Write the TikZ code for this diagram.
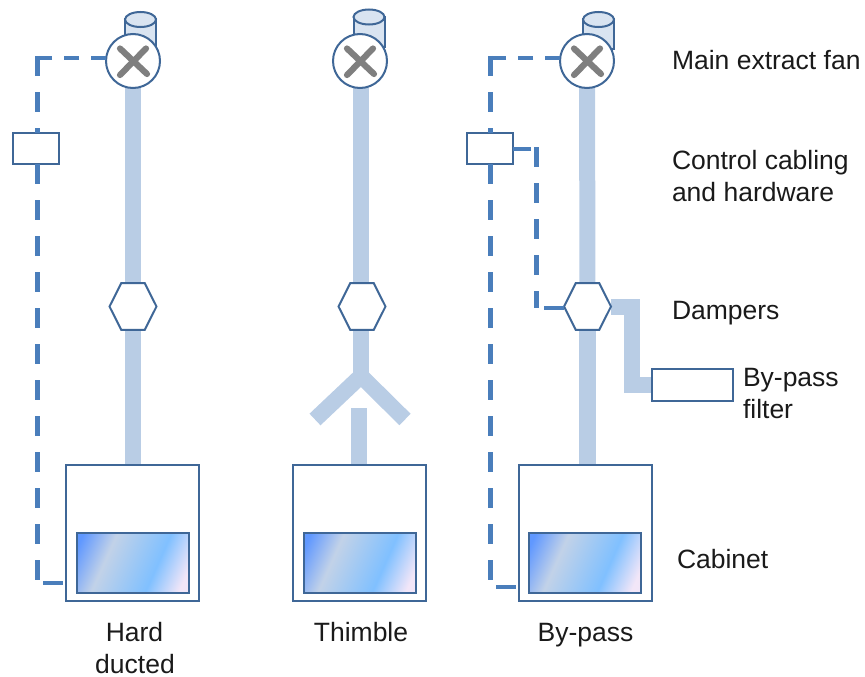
\documentclass[tikz,border=0pt]{standalone}
\usepackage{fontspec}
\setmainfont{Liberation Sans}
\usetikzlibrary{shapes.geometric,backgrounds,calc}
\definecolor{edge}{HTML}{3F6797}
\definecolor{duct}{HTML}{B9CDE5}
\definecolor{ctrl}{HTML}{4A7EBB}
\definecolor{cyl}{HTML}{D9E4F1}
\definecolor{crossc}{HTML}{7F7F7F}
\definecolor{txt}{HTML}{1A1A1A}
\definecolor{g1}{HTML}{6098FF}
\definecolor{g2}{HTML}{C2D2E8}
\definecolor{g3}{HTML}{80C0FF}
\definecolor{g4}{HTML}{F2E6F8}
\pgfdeclarehorizontalshading{glassy}{100bp}{
  color(0bp)=(g1); color(20bp)=(g1); color(36bp)=(g2); color(62bp)=(g3); color(78bp)=(g4); color(100bp)=(g4)}
\tikzset{
  x=1pt,y=-1pt,
  ductline/.style={draw=duct,line width=16pt,line join=miter,line cap=butt},
  ctrlline/.style={draw=ctrl,line width=5pt,dash pattern=on 20pt off 16pt},
  ctrlthin/.style={draw=ctrl,line width=3.6pt,dash pattern=on 15pt off 12pt},
  ctrlstub/.style={draw=ctrl,line width=4.4pt},
  fanc/.style={circle,draw=edge,line width=2pt,fill=white,minimum size=54pt,inner sep=0pt,outer sep=0pt},
  damper/.style={regular polygon,regular polygon sides=6,draw=edge,line width=2pt,fill=white,
     minimum size=47pt,inner sep=0pt,outer sep=0pt,yscale=1.15,transform shape},
  boxn/.style={rectangle,draw=edge,line width=2.2pt,fill=white,inner sep=0pt,outer sep=0pt},
  cabinetn/.style={boxn,minimum width=133pt,minimum height=136pt},
  glassn/.style={rectangle,draw=edge,line width=2.4pt,shading=glassy,shading angle=-24,inner sep=0pt,outer sep=0pt,minimum width=112pt,minimum height=60pt},
  crossl/.style={draw=crossc,line width=6.2pt,line cap=round},
  lab/.style={text=txt,font=\fontsize{26.5}{32}\selectfont,inner sep=0pt,outer sep=0pt},
  labl/.style={lab,anchor=base west},
  labc/.style={lab,anchor=base},
}
\newcommand{\fanunit}[4]{%
  \draw[draw=edge,fill=cyl,line width=2pt] (#3-15.5,#4) -- (#3-15.5,#4+30) -- (#3+15.5,#4+30) -- (#3+15.5,#4) -- cycle;
  \draw[draw=edge,fill=cyl,line width=2pt] (#3,#4) ellipse [x radius=15.5pt,y radius=7.5pt];
  \node[fanc] (#1) at (#2,61) {};
  \draw[crossl] (#2-13,48.5) -- (#2+14,74);
  \draw[crossl] (#2+13,48.5) -- (#2-13,75);
}
\begin{document}
\begin{tikzpicture}
\useasboundingbox (0,0) rectangle (865,677);
% fans
\fanunit{fanA}{133}{140.5}{19.5}
\fanunit{fanB}{360}{369}{17}
\fanunit{fanC}{587}{598.5}{19.5}
% dampers
\node[damper] (dampA) at (133,306.5) {};
\node[damper] (dampB) at (362,306.5) {};
\node[damper] (dampC) at (587.5,306.5) {};
% cabinets
\node[cabinetn] (cabA) at (132.5,533) {};
\node[cabinetn] (cabB) at (359.5,533) {};
\node[cabinetn] (cabC) at (585.5,533) {};
\node[glassn] (glassA) at (133,563) {};
\node[glassn] (glassB) at (360,563) {};
\node[glassn] (glassC) at (585,563) {};
% control boxes and filter
\node[boxn,minimum width=46pt,minimum height=31pt] (ctlA) at (36,148.5) {};
\node[boxn,minimum width=46pt,minimum height=31pt] (ctlC) at (490,148.5) {};
\node[boxn,minimum width=81pt,minimum height=31.5pt] (filter) at (692.5,385) {};
% free-end coordinates
\coordinate (jY) at (361,376);
\coordinate (armL) at (315,419.5);
\coordinate (armR) at (405,419.5);
\coordinate (lowB) at (358.5,408);
\coordinate (bendA) at (632,306.5);
\coordinate (bendB) at (632,385);
\coordinate (cornerA) at (37.5,58);
\coordinate (cornerC) at (490,58);
\coordinate (footA) at (37.5,583);
\coordinate (footC) at (490,587);
\coordinate (linkTop) at (536,147);
\coordinate (linkBot) at (536,308);
% ducts
\begin{scope}[on background layer]
  \draw[ductline] (fanA) -- (dampA);
  \draw[ductline] (dampA) -- (cabA.north -| dampA);
  \draw[ductline] (jY |- fanB) -- (jY |- dampB);
  \draw[ductline] (jY |- dampB) -- (jY);
  \draw[ductline] (armL) -- (jY) -- (armR);
  \draw[ductline] (lowB) -- (lowB |- cabB.north);
  \draw[ductline] (fanC) -- (dampC);
  \draw[ductline,line width=17pt] (dampC) -- (dampC |- cabC.north);
  \draw[ductline] (dampC) -- (bendA) -- (bendB) -- (filter.west |- bendB);
\end{scope}
% control wiring, left
\draw[ctrlthin] (fanA.west |- cornerA) -- ($(cornerA)+(-2.5,0)$);
\draw[ctrlline] (cornerA) ++(0,-2) -- (ctlA.north -| cornerA);
\draw[ctrlline] (ctlA.south -| cornerA) -- (footA);
\draw[ctrlstub,dash pattern=on 20pt off 16pt,dash phase=32.5pt] (cabA.west |- footA) -- (footA);
% control wiring, right
\draw[ctrlthin] (fanC.west |- cornerC) -- ($(cornerC)+(-2.5,0)$);
\draw[ctrlline] (cornerC) ++(0,-2) -- (ctlC.north -| cornerC);
\draw[ctrlline] (ctlC.south -| cornerC) -- (footC);
\draw[ctrlstub,dash pattern=on 20pt off 16pt,dash phase=32.5pt] (cabC.west |- footC) -- (footC);
\draw[ctrlstub,dash pattern=on 18pt off 16pt] (ctlC.east |- 0,149) -- (linkTop |- 0,149);
\draw[ctrlline] (linkTop) -- (linkBot);
\draw[ctrlstub,dash pattern=on 20pt off 16pt] (dampC.west |- linkBot) -- (linkBot);
% labels
\node[labl] (tFan) at (672,70) {Main extract fan};
\node[labl] (tCtlA) at (672,169.5) {Control cabling};
\node[labl] (tCtlB) at (672,201) {and hardware};
\node[labl] (tDamp) at (672,319.5) {Dampers};
\node[labl] (tFiltA) at (743,386.5) {By-pass};
\node[labl] (tFiltB) at (743,418) {filter};
\node[labl] (tCab) at (677,568) {Cabinet};
\node[labc] (tHardA) at (134.5,641) {Hard};
\node[labc] (tHardB) at (135,673) {ducted};
\node[labc] (tThim) at (361,641) {Thimble};
\node[labc] (tBy) at (585.5,641) {By-pass};
\end{tikzpicture}
\end{document}
